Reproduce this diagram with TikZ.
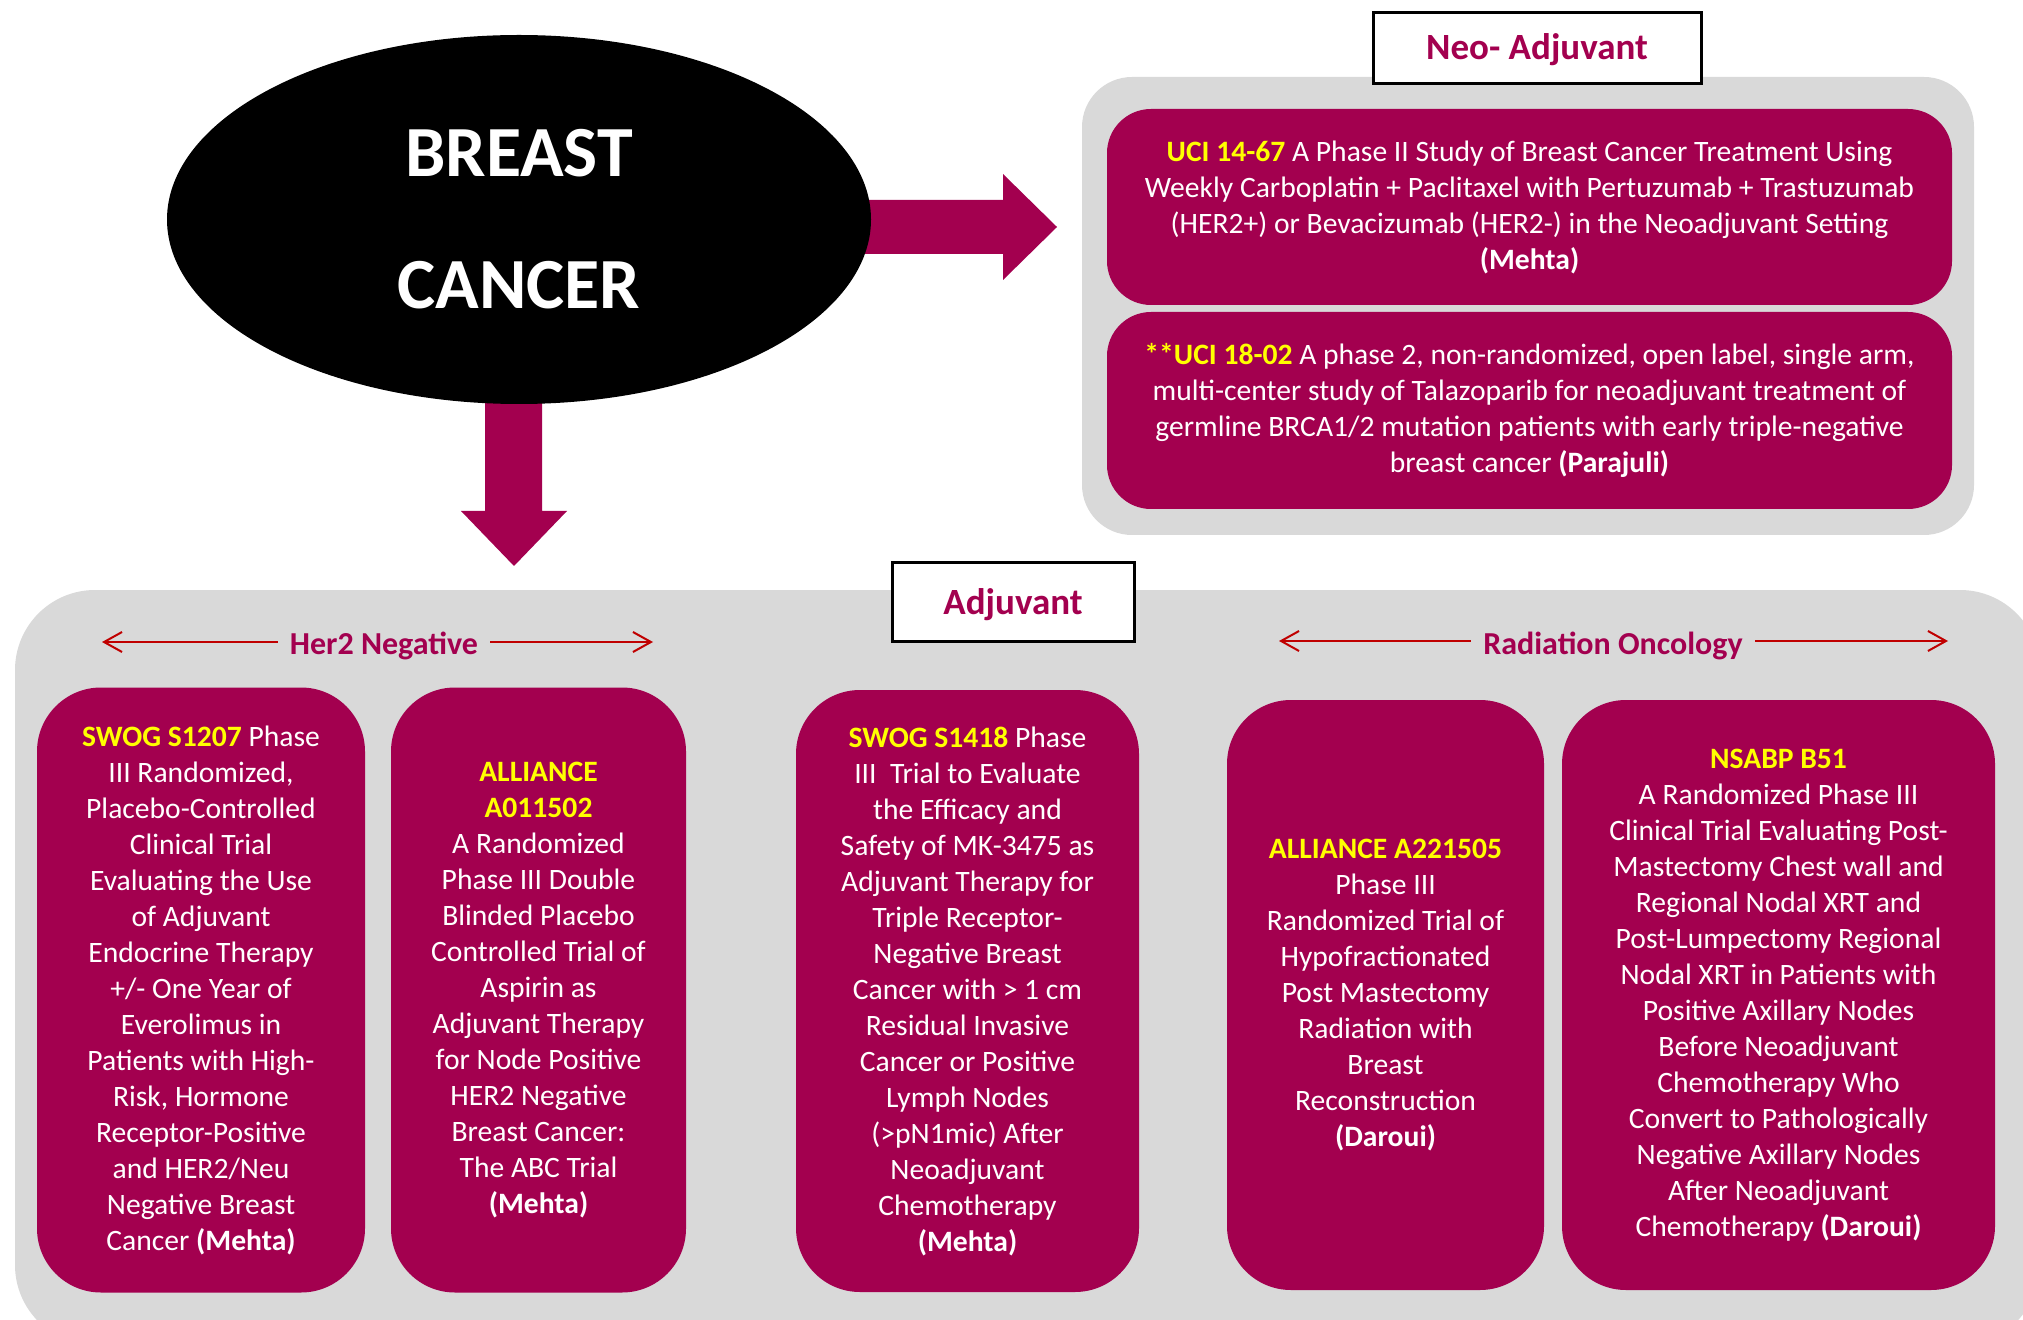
\documentclass[tikz,border=0pt]{standalone}
\usepackage{fontspec}
\setmainfont{Carlito}
\usetikzlibrary{shapes.geometric,arrows.meta}
\definecolor{berry}{RGB}{163,0,79}
\definecolor{panelgray}{RGB}{217,217,217}
\definecolor{guidered}{RGB}{192,0,0}
\definecolor{idyellow}{RGB}{255,255,0}
\newcommand{\trialid}[1]{\textbf{\textcolor{idyellow}{#1}}}

\begin{document}
\begin{tikzpicture}[x=0.5pt,y=-0.5pt,
    trial/.style={rectangle, rounded corners=32pt, fill=berry, text=white,
      align=center, inner sep=0pt, font=\fontsize{14.8}{18}\selectfont},
    heading/.style={rectangle, draw=black, line width=1.5pt, fill=white, text=berry,
      inner sep=0pt, text height=15pt, text depth=3pt, font=\bfseries\fontsize{18.5}{22}\selectfont},
    side/.style={text=berry, inner xsep=6pt, font=\bfseries\fontsize{16}{19}\selectfont},
    span/.style={draw=guidered, line width=1pt, -{Straight Barb[length=9pt,width=10pt]}}]
    \useasboundingbox (0,0) rectangle (2023,1320);
    \clip (0,0) rectangle (2023,1320);

    % panels
    \fill[panelgray, rounded corners=25pt] (1082,77) rectangle (1974,535);
    \fill[panelgray, rounded corners=40pt] (15,590) rectangle (2040,1345);

    % fat arrows out of the ellipse
    \fill[berry] (800,200) -- (1003,200) -- (1003,174) -- (1057,227) -- (1003,280) -- (1003,254) -- (800,254) -- cycle;
    \fill[berry] (485,350) -- (485,511) -- (461,511) -- (514,566) -- (567,511) -- (542,511) -- (542,350) -- cycle;

    \node[ellipse, fill=black, text=white, minimum width=352pt, minimum height=184.5pt,
      inner sep=0pt, align=center, font=\bfseries\fontsize{36}{66}\selectfont] (bc) at (519,219.5) {BREAST\\CANCER};

    % headings
    \node[heading, minimum width=164pt, minimum height=35.5pt] (neo) at (1537,48) {Neo- Adjuvant};
    \node[heading, minimum width=121pt, minimum height=39pt] (adj) at (1013,602) {Adjuvant};

    % neo-adjuvant trials
    \node[trial, rounded corners=22pt, minimum width=422.5pt, minimum height=98pt] (uci1467) at (1529.5,207)
      {\trialid{UCI 14-67} A Phase II Study of Breast Cancer Treatment Using\\
       Weekly Carboplatin + Paclitaxel with Pertuzumab + Trastuzumab\\
       (HER2+) or Bevacizumab (HER2-) in the Neoadjuvant Setting\\
       \textbf{(Mehta)}};
    \node[trial, rounded corners=22pt, minimum width=422.5pt, minimum height=98.5pt] (uci1802) at (1529.5,410.5)
      {\trialid{**UCI 18-02} A phase 2, non-randomized, open label, single arm,\\
       multi-center study of Talazoparib for neoadjuvant treatment of\\
       germline BRCA1/2 mutation patients with early triple-negative\\
       breast cancer \textbf{(Parajuli)}};

    % group labels
    \node[side] (her2) at (384,646) {Her2 Negative};
    \node[side] (radonc) at (1613,646) {Radiation Oncology};
    \coordinate (her2L) at (102,642);
    \coordinate (her2R) at (653,642);
    \coordinate (radoncL) at (1279,641);
    \coordinate (radoncR) at (1948,641);
    \draw[span] (her2.west |- her2L) -- (her2L);
    \draw[span] (her2.east |- her2R) -- (her2R);
    \draw[span] (radonc.west |- radoncL) -- (radoncL);
    \draw[span] (radonc.east |- radoncR) -- (radoncR);

    % adjuvant trials
    \node[trial, minimum width=164pt, minimum height=302.5pt] (s1207) at (201,990)
      {\trialid{SWOG S1207} Phase\\ III Randomized,\\ Placebo-Controlled\\ Clinical Trial\\
       Evaluating the Use\\ of Adjuvant\\ Endocrine Therapy\\ +/- One Year of\\ Everolimus in\\
       Patients with High-\\ Risk, Hormone\\ Receptor-Positive\\ and HER2/Neu\\
       Negative Breast\\ Cancer \textbf{(Mehta)}};
    \node[trial, minimum width=147.5pt, minimum height=302.5pt] (a011502) at (538.5,990)
      {\trialid{ALLIANCE}\\ \trialid{A011502}\\ A Randomized\\ Phase III Double\\ Blinded Placebo\\
       Controlled Trial of\\ Aspirin as\\ Adjuvant Therapy\\ for Node Positive\\ HER2 Negative\\
       Breast Cancer:\\ The ABC Trial\\ \textbf{(Mehta)}};
    \node[trial, minimum width=171.5pt, minimum height=301pt] (s1418) at (967.5,991)
      {\trialid{SWOG S1418} Phase\\ III~~Trial to Evaluate\\ the Efficacy and\\ Safety of MK-3475 as\\
       Adjuvant Therapy for\\ Triple Receptor-\\ Negative Breast\\ Cancer with > 1 cm\\
       Residual Invasive\\ Cancer or Positive\\ Lymph Nodes\\ (>pN1mic) After\\ Neoadjuvant\\
       Chemotherapy\\ \textbf{(Mehta)}};
    \node[trial, minimum width=158.5pt, minimum height=295pt] (a221505) at (1385.5,995)
      {\trialid{ALLIANCE A221505}\\ Phase III\\ Randomized Trial of\\ Hypofractionated\\
       Post Mastectomy\\ Radiation with\\ Breast\\ Reconstruction\\ \textbf{(Daroui)}};
    \node[trial, minimum width=216.5pt, minimum height=295pt] (b51) at (1778.5,995)
      {\trialid{NSABP B51}\\ A Randomized Phase III\\ Clinical Trial Evaluating Post-\\
       Mastectomy Chest wall and\\ Regional Nodal XRT and\\ Post-Lumpectomy Regional\\
       Nodal XRT in Patients with\\ Positive Axillary Nodes\\ Before Neoadjuvant\\
       Chemotherapy Who\\ Convert to Pathologically\\ Negative Axillary Nodes\\
       After Neoadjuvant\\ Chemotherapy \textbf{(Daroui)}};
\end{tikzpicture}
\end{document}
